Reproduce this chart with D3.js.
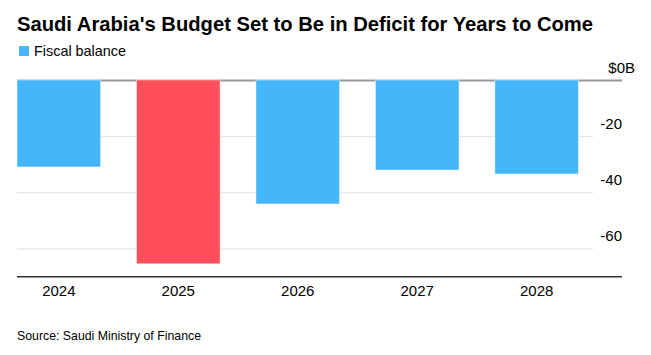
<!DOCTYPE html>
<html>
<head>
<meta charset="utf-8">
<script src="https://cdn.jsdelivr.net/npm/d3@7"></script>
<style>
  html, body { margin: 0; padding: 0; background: #fff; }
  svg { display: block; font-family: "Liberation Sans", Arial, Helvetica, sans-serif; }
</style>
</head>
<body>
<svg id="chart" width="651" height="355"></svg>
<script>
const categories = ["2024", "2025", "2026", "2027", "2028"];
const values = [-30.8, -65.3, -44.0, -31.9, -33.3];
const highlight = ["2025"];
const yTicks = [0, -20, -40, -60];
const yTickLabels = ["$0B", "-20", "-40", "-60"];
const seriesName = "Fiscal balance";
const title = "Saudi Arabia's Budget Set to Be in Deficit for Years to Come";
const source = "Source: Saudi Ministry of Finance";

const svg = d3.select("#chart");
const blue = "#44b6f9", red = "#ff4f5b";

const x = d3.scaleBand().domain(categories).range([17, 578.5]).paddingInner(0.3).paddingOuter(0);
const y = d3.scaleLinear().domain([0, -70]).range([80.5, 277]);

// title
svg.append("text").attr("x", 17).attr("y", 30.5)
  .attr("font-size", 21).attr("font-weight", "bold").attr("fill", "#000")
  .attr("textLength", 576).attr("lengthAdjust", "spacingAndGlyphs")
  .text(title);

// legend
svg.append("rect").attr("x", 19).attr("y", 46).attr("width", 10).attr("height", 10).attr("fill", blue);
svg.append("text").attr("x", 34).attr("y", 55.5).attr("font-size", 14.5).attr("fill", "#000")
  .attr("textLength", 92).attr("lengthAdjust", "spacingAndGlyphs").text(seriesName);

// gridlines
svg.append("g").selectAll("line").data(yTicks.filter(d => d !== 0)).join("line")
  .attr("x1", 17).attr("x2", 593)
  .attr("y1", d => y(d)).attr("y2", d => y(d))
  .attr("stroke", "#e2e2e2").attr("stroke-width", 1);

// zero line
svg.append("line").attr("x1", 17).attr("x2", 622).attr("y1", y(0)).attr("y2", y(0))
  .attr("stroke", "#999").attr("stroke-width", 2);

// bars
svg.append("g").selectAll("rect").data(categories).join("rect")
  .attr("x", d => x(d))
  .attr("width", x.bandwidth())
  .attr("y", (d, i) => y(Math.max(0, values[i])) - 0.5)
  .attr("height", (d, i) => Math.abs(y(values[i]) - y(0)) + 0.5)
  .attr("fill", d => highlight.includes(d) ? red : blue)
  .attr("stroke", "#fff").attr("stroke-opacity", 0.6).attr("stroke-width", 0.8);

// y tick labels
svg.append("g").selectAll("text").data(yTicks).join("text")
  .attr("x", (d, i) => i === 0 ? 635 : 622)
  .attr("y", d => y(d) - 8)
  .attr("text-anchor", "end")
  .attr("font-size", 15).attr("fill", "#000")
  .text((d, i) => yTickLabels[i]);

// bottom axis
svg.append("line").attr("x1", 17).attr("x2", 622).attr("y1", 276.7).attr("y2", 276.7)
  .attr("stroke", "#333").attr("stroke-width", 1.5);

// x labels
svg.append("g").selectAll("text").data(categories).join("text")
  .attr("x", d => x(d) + x.bandwidth() / 2)
  .attr("y", 296)
  .attr("text-anchor", "middle")
  .attr("font-size", 15).attr("fill", "#000")
  .text(d => d);

// source
svg.append("text").attr("x", 17).attr("y", 340).attr("font-size", 13).attr("fill", "#000")
  .attr("textLength", 184).attr("lengthAdjust", "spacingAndGlyphs").text(source);
</script>
</body>
</html>
